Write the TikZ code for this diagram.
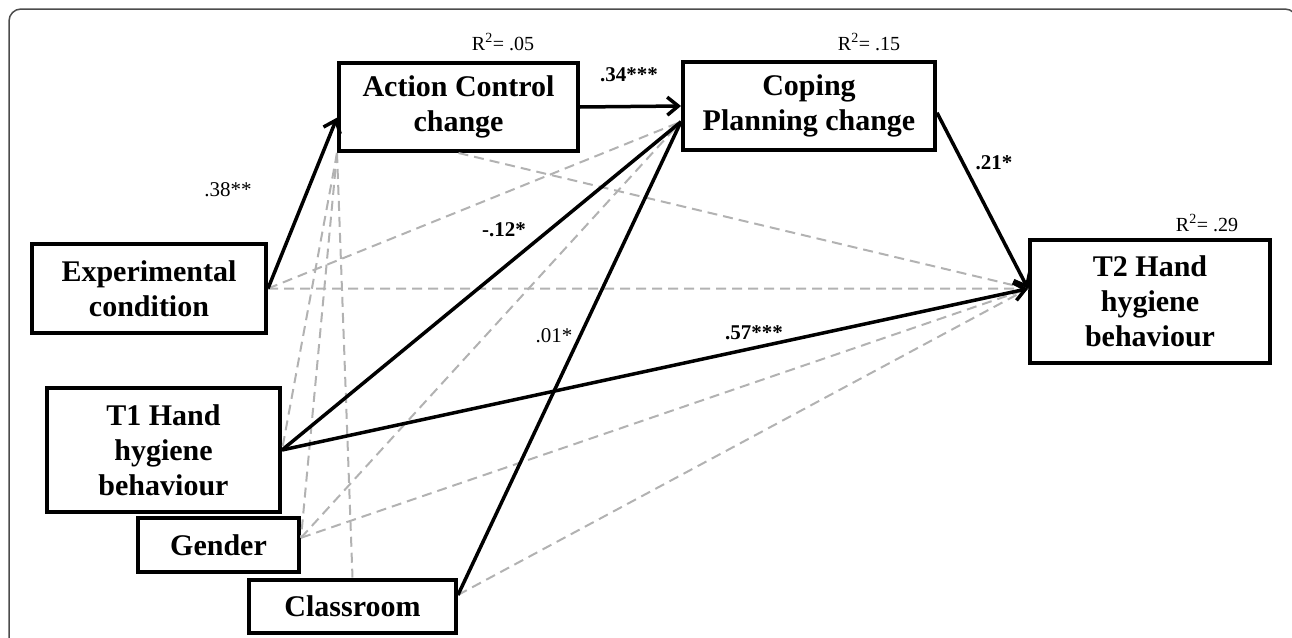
\documentclass[tikz,border=0pt]{standalone}
\usepackage{fontspec}
\setmainfont{Liberation Serif}
\usetikzlibrary{arrows.meta}

\tikzset{
    var/.style={draw=black, line width=4pt, fill=white, align=center, inner sep=0pt,
        font=\bfseries\fontsize{30}{35}\selectfont},
    reg/.style={line width=3.5pt, -{Straight Barb[length=11pt,width=18pt]}},
    regline/.style={line width=3.5pt},
    cov/.style={gray!60, line width=2pt, dash pattern=on 10pt off 6pt},
    rsq/.style={font=\fontsize{20}{22}\selectfont, inner sep=0pt},
    coef/.style={font=\fontsize{21}{24}\selectfont, inner sep=0pt},
    coefb/.style={font=\bfseries\fontsize{21}{24}\selectfont, inner sep=0pt},
    frame/.style={black!70, line width=1.5pt, rounded corners=12pt}
}

\begin{document}
\begin{tikzpicture}[x=1pt,y=-1pt]
            \useasboundingbox (0,0) rectangle (1292,637);
            \draw[frame] (9,9) rectangle (1297,690);

            \node[var, minimum width=234pt, minimum height=89pt] (EC) at (149,288.5) {Experimental\\condition};
            \node[var, minimum width=239pt, minimum height=88pt] (AC) at (458.5,107) {Action Control\\change};
            \node[var, minimum width=252pt, minimum height=88pt] (CP) at (809,106) {Coping\\Planning change};
            \node[var, minimum width=233pt, minimum height=124pt] (T1) at (163.5,450) {T1 Hand\\hygiene\\behaviour};
            \node[var, minimum width=240pt, minimum height=123pt] (T2) at (1150,301.5) {T2 Hand\\hygiene\\behaviour};
            \node[var, minimum width=161pt, minimum height=54pt] (GE) at (218.5,545) {Gender};
            \node[var, minimum width=207pt, minimum height=53pt] (CL) at (352.5,606) {Classroom};

            % non-significant paths
            \path [cov] (EC.east) edge (CP.187);
            \path [cov] (EC.east) edge (T2.174);
            \path [cov] (AC.south) edge (T2.174);
            \path [cov] (AC.south west) edge (T1.east);
            \path [cov] (AC.south west) edge (GE.5);
            \path [cov] (AC.south west) edge (CL.north);
            \path [cov] (GE.5) edge (CP.187);
            \path [cov] (GE.5) edge (T2.174);
            \path [cov] (CL.6) edge (T2.174);

            % significant paths
            \path [reg] (EC.east) edge (AC.185);
            \path [reg] (AC.east) edge (CP.west);
            \path [reg] (CP.357) edge (T2.174);
            \path [reg] (T1.east) edge (T2.174);
            \path [regline] (T1.east) edge (CP.187);
            \path [regline] (CL.6) edge (CP.187);

            \node[rsq] (R1) at (503,42) {R\textsuperscript{2}= .05};
            \node[rsq] (R2) at (869,42) {R\textsuperscript{2}= .15};
            \node[rsq] (R3) at (1207,223) {R\textsuperscript{2}= .29};

            \node[coef] (B1) at (228,190) {.38**};
            \node[coefb] (B2) at (629,75) {.34***};
            \node[coefb] (B3) at (504,230) {-.12*};
            \node[coef] (B4) at (554,336) {.01*};
            \node[coefb] (B5) at (754,333) {.57***};
            \node[coefb] (B6) at (994,163) {.21*};
        \end{tikzpicture}
\end{document}
